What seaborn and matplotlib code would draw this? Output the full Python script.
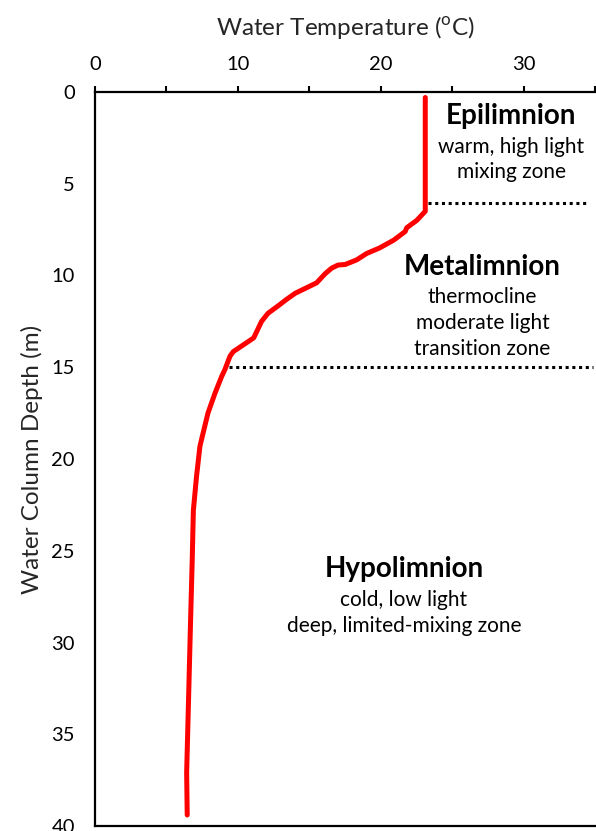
import matplotlib
matplotlib.use("Agg")
import matplotlib.pyplot as plt
import seaborn as sns
import numpy as np

# Temperature profile
temp = [23.1, 23.1, 23.1, 22.5, 21.8, 21.7, 20.9, 19.9, 19.0, 18.3, 17.5, 17.0,
        16.55, 16.1, 15.5, 14.0, 13.4, 12.9, 12.1, 11.65, 11.1, 9.67, 9.44, 9.1,
        8.86, 8.4, 7.9, 7.34, 7.1, 6.88, 6.8, 6.68, 6.53, 6.41, 6.45]
depth = [0.3, 3.0, 6.5, 7.0, 7.4, 7.6, 8.07, 8.5, 8.8, 9.15, 9.4, 9.43,
         9.6, 9.9, 10.4, 10.97, 11.3, 11.6, 12.06, 12.5, 13.4, 14.15, 14.4, 15.1,
         15.5, 16.4, 17.5, 19.3, 20.96, 22.8, 25.5, 28.95, 33.5, 37.1, 39.4]

# Zone boundaries
boundary_depths = [6.05, 15.0]
boundary_starts = [23.3, 9.4]
boundary_ends = [34.4, 34.8]

zone_titles = ["Epilimnion", "Metalimnion", "Hypolimnion"]
zone_desc = [["warm, high light", "mixing zone"],
             ["thermocline", "moderate light", "transition zone"],
             ["cold, low light", "deep, limited-mixing zone"]]

xticks = [0, 10, 20, 30]
yticks = [0, 5, 10, 15, 20, 25, 30, 35, 40]

sns.set_theme(style="white")
plt.rcParams['font.family'] = ['Lato', 'DejaVu Sans']
plt.rcParams['mathtext.fontset'] = 'custom'
plt.rcParams['mathtext.rm'] = 'Lato'

fig = plt.figure(figsize=(5.96, 8.31), dpi=100)
ax = fig.add_axes([95/596, 5/831, 1 - 95/596 - 0.001, (826-92)/831])

sns.lineplot(x=temp, y=depth, sort=False, estimator=None, color='#ff0000',
             linewidth=3.6, ax=ax)
for line in ax.lines:
    line.set_solid_capstyle('round')
    line.set_solid_joinstyle('round')

for d, s, e in zip(boundary_depths, boundary_starts, boundary_ends):
    ax.plot([s, e], [d, d], color='black', linestyle=(0, (1, 1.2)), linewidth=2.2)

ax.set_xlim(0, 35)
ax.set_ylim(40, 0)
ax.xaxis.set_ticks_position('top')
ax.xaxis.set_label_position('top')
ax.set_xticks([0, 5, 10, 15, 20, 25, 30, 35])
ax.set_xticklabels(['0', '', '10', '', '20', '', '30', ''])
ax.set_yticks(yticks)
ax.set_yticklabels([str(v) for v in yticks])
ax.tick_params(axis='x', direction='out', length=4.5, width=1.5, labelsize=14.5, pad=9, colors='black')
ax.tick_params(axis='y', direction='out', length=5.5, width=1.5, labelsize=14.5, pad=9, colors='black')
ax.set_xlabel(r"Water Temperature ($^{\mathrm{o}}$C)", fontsize=17.5, labelpad=15)
ax.set_ylabel("Water Column Depth (m)", fontsize=17.5, labelpad=6)

for sp in ['top', 'left', 'bottom']:
    ax.spines[sp].set_linewidth(1.6)
    ax.spines[sp].set_color('black')
ax.spines['right'].set_visible(False)

# Zone annotations
title_pos = [(29.1, 1.3), (27.1, 9.54), (21.6, 26.0)]
desc_pos = [[3.0, 4.36], [11.17, 12.6, 14.0], [27.7, 29.1]]
for t, (x, y), descs, ys in zip(zone_titles, title_pos, zone_desc, desc_pos):
    ax.text(x, y, t, ha='center', va='center', fontsize=20, fontweight='bold', color='black')
    for dtxt, dy in zip(descs, ys):
        ax.text(x, dy, dtxt, ha='center', va='center', fontsize=15, color='black')

fig.savefig("out.png", dpi=100)
